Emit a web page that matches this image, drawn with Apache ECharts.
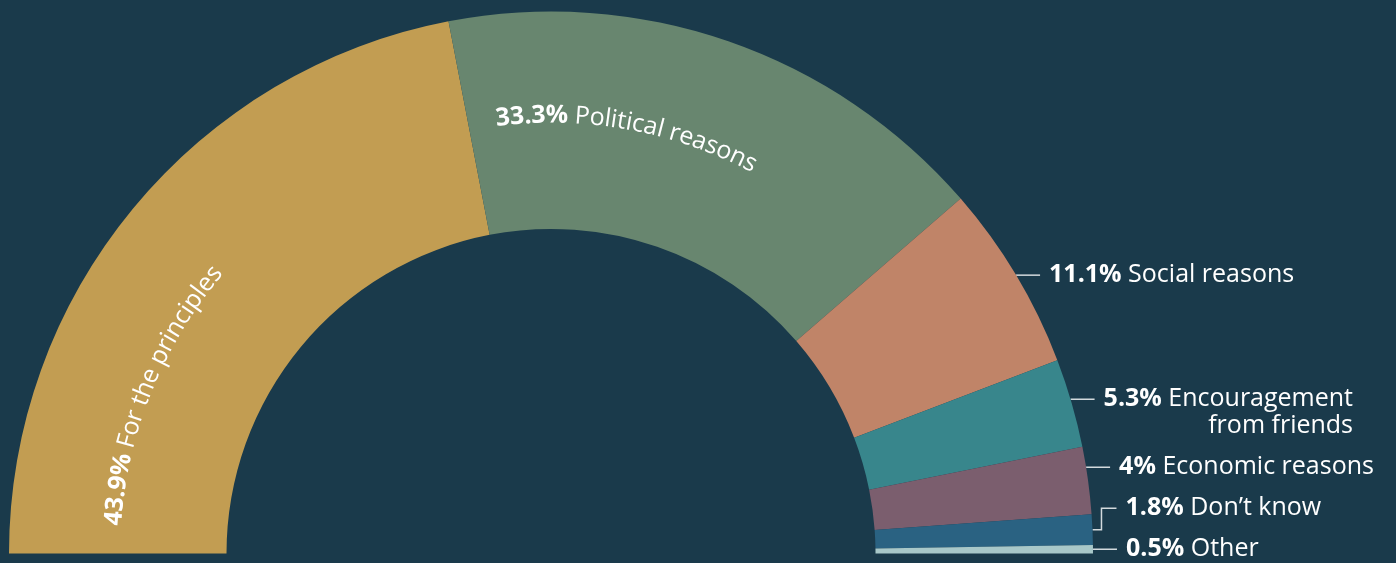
<!DOCTYPE html>
<html>
<head>
<meta charset="utf-8">
<style>
  html, body { margin: 0; padding: 0; background: #1a3a4b; }
  #chart { width: 1396px; height: 563px; }
</style>
<script src="https://cdn.jsdelivr.net/npm/echarts@6/dist/echarts.min.js"></script>
</head>
<body>
<div id="chart"></div>
<script>
// Reasons given, share of respondents (%)
const categories = [
  'For the principles',
  'Political reasons',
  'Social reasons',
  'Encouragement\nfrom friends',
  'Economic reasons',
  'Don\u2019t know',
  'Other'
];
const shares = [43.9, 33.3, 11.1, 5.3, 4, 1.8, 0.5];
const palette = ['#c29d52', '#68866f', '#c08468', '#38868c', '#7b5e6e', '#2a6282', '#a8c8c9'];

// The largest slices carry their label along the arc, the rest use leader lines
const ARC_LABELLED = 2;

// Layout
const CX = 551, CY = 553.5;
const R_IN = 324.5, R_OUT = 542;
const FONT = '"Open Sans", "Noto Sans", sans-serif';
const FONT_SIZE = 25;
const ARC_R = 438;        // radius of the curved label's centre line
const ARC_OFFSET = 28;    // gap between slice edge and first letter, along the arc
const LINE_H = 27;        // line height of outside labels
const LABEL_GAP = 41;     // minimum vertical distance between stacked outside labels
const LEADER = 24;        // horizontal reach of a leader line beyond the rim
const KNEE = 9;           // first run of a bent leader line
const TEXT_GAP = 9;       // leader end to label text

const chart = echarts.init(document.getElementById('chart'), null, { renderer: 'canvas' });

const total = shares.reduce((a, b) => a + b, 0);
// start / end angle (radians, counter-clockwise from +x) of each slice, drawn clockwise from 180°
const sliceAngles = (() => {
  let acc = 0;
  return shares.map(v => {
    const a0 = (180 - acc / total * 180) * Math.PI / 180;
    acc += v;
    const a1 = (180 - acc / total * 180) * Math.PI / 180;
    return [a0, a1];
  });
})();

function outsideLabel(p) {
  const lines = p.name.split('\n');
  let s = '{p|' + p.value + '%} {n|' + lines[0] + '}';
  for (let k = 1; k < lines.length; k++) s += '\n{r|' + lines[k] + '}';
  return s;
}

// Outside labels: each sits level with its slice's mid angle, pushed up
// when it would crowd the label below it
const outsidePlacement = (() => {
  const place = {};
  let limit = Infinity;
  for (let i = shares.length - 1; i >= ARC_LABELLED; i--) {
    const nLines = categories[i].split('\n').length;
    const [a0, a1] = sliceAngles[i];
    const mid = (a0 + a1) / 2;
    const midX = CX + R_OUT * Math.cos(mid);
    const midY = CY - R_OUT * Math.sin(mid);
    const y = Math.min(midY, limit - (nLines - 1) * LINE_H);
    limit = y - LABEL_GAP;
    const yTop = CY - R_OUT * Math.sin(a0);
    const yBottom = CY - R_OUT * Math.sin(a1);
    let points, endX;
    if (y >= yTop && y <= yBottom) {
      const edgeX = CX + Math.sqrt(R_OUT * R_OUT - (CY - y) * (CY - y));
      endX = edgeX + LEADER;
      points = [[edgeX, y], [endX, y]];
    } else {
      endX = midX + LEADER;
      points = [[midX, midY], [midX + KNEE, midY], [midX + KNEE, y], [endX, y]];
    }
    place[i] = {
      x: endX + TEXT_GAP,
      y: y + (nLines - 1) * LINE_H / 2,
      align: 'left',
      verticalAlign: 'middle',
      labelLinePoints: points
    };
  }
  return place;
})();

// Curved text: one text element per character, laid along the slice's arc
function arcLabels() {
  const ctx = document.createElement('canvas').getContext('2d');
  const els = [];
  for (let i = 0; i < ARC_LABELLED; i++) {
    const startRad = sliceAngles[i][0];
    const pieces = [
      { text: shares[i] + '%', weight: 'bold' },
      { text: ' ' + categories[i], weight: 'normal' }
    ];
    let s = ARC_OFFSET;
    pieces.forEach(piece => {
      ctx.font = piece.weight + ' ' + FONT_SIZE + 'px ' + FONT;
      for (const ch of piece.text) {
        const w = ctx.measureText(ch).width;
        const a = startRad - (s + w / 2) / ARC_R;
        els.push({
          type: 'text',
          x: CX + ARC_R * Math.cos(a),
          y: CY - ARC_R * Math.sin(a),
          rotation: a - Math.PI / 2,
          silent: true,
          z: 100,
          style: {
            text: ch,
            fill: '#ffffff',
            fontFamily: FONT,
            fontSize: FONT_SIZE,
            fontWeight: piece.weight,
            align: 'center',
            verticalAlign: 'middle'
          }
        });
        s += w;
      }
    });
  }
  return els;
}

const seriesData = categories.map((name, i) => ({
  name: name,
  value: shares[i],
  itemStyle: { color: palette[i] },
  label: { show: i >= ARC_LABELLED },
  labelLine: { show: i >= ARC_LABELLED }
}));

chart.setOption({
  backgroundColor: '#1a3a4b',
  animation: false,
  series: [{
    type: 'pie',
    center: [CX, CY],
    radius: [R_IN, R_OUT],
    startAngle: 180,
    endAngle: 0,
    clockwise: true,
    avoidLabelOverlap: false,
    emphasis: { disabled: true },
    itemStyle: { borderWidth: 0 },
    data: seriesData,
    label: {
      position: 'outside',
      formatter: outsideLabel,
      color: '#ffffff',
      fontFamily: FONT,
      fontSize: FONT_SIZE,
      lineHeight: LINE_H,
      rich: {
        p: { fontFamily: FONT, fontSize: FONT_SIZE, fontWeight: 'bold', color: '#ffffff', lineHeight: LINE_H },
        n: { fontFamily: FONT, fontSize: FONT_SIZE, color: '#ffffff', lineHeight: LINE_H },
        r: { fontFamily: FONT, fontSize: FONT_SIZE, color: '#ffffff', lineHeight: LINE_H, align: 'right' }
      }
    },
    labelLine: {
      length: 4,
      length2: 24,
      smooth: false,
      lineStyle: { color: '#d3dadd', width: 1.5 }
    },
    labelLayout: params => outsidePlacement[params.dataIndex] || {}
  }],
  graphic: { elements: arcLabels() }
});
</script>
</body>
</html>
